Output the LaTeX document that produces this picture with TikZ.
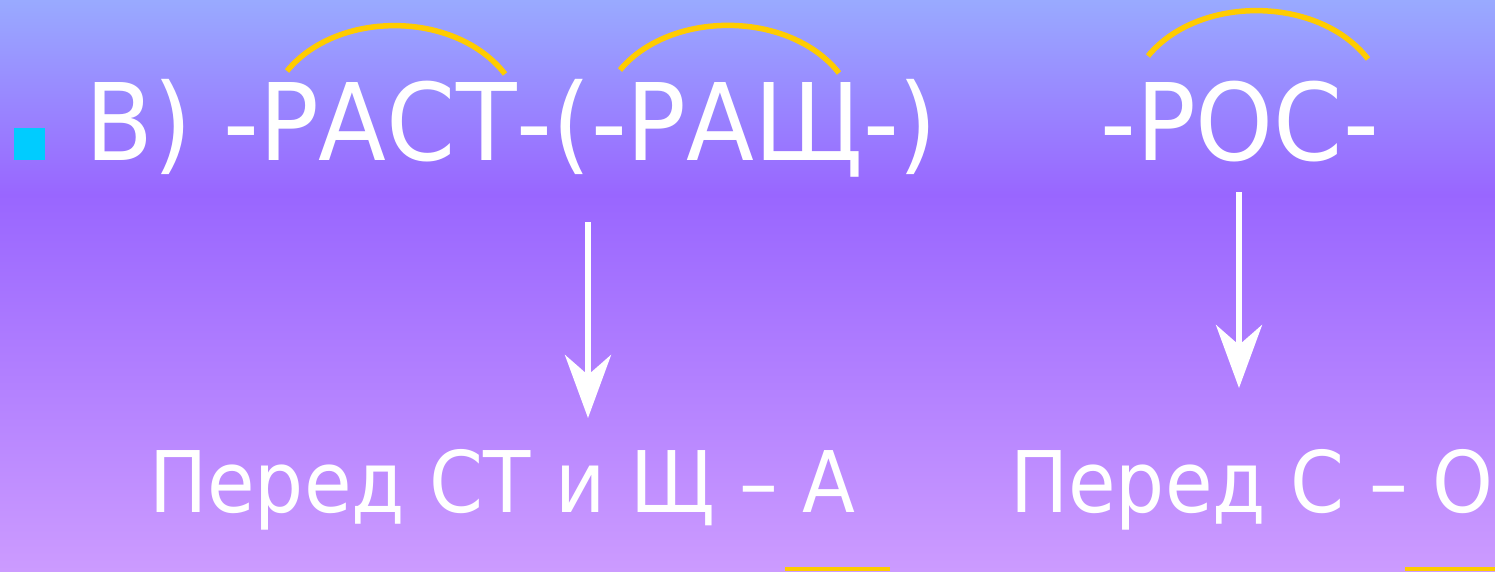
\documentclass[tikz,border=0pt]{standalone}
\usepackage{fontspec}
\setmainfont{DejaVu Sans}
\usetikzlibrary{arrows.meta}
\definecolor{bgtop}{RGB}{153,170,255}
\definecolor{bgmid}{RGB}{153,102,255}
\definecolor{bgbot}{RGB}{204,155,255}
\definecolor{arcgold}{RGB}{255,204,0}
\definecolor{bulletcyan}{RGB}{0,204,255}

\begin{document}
\begin{tikzpicture}[x=1pt,y=-1pt,
    bigtext/.style={text=white,inner sep=0pt,anchor=base west,xscale=0.927,
      font=\fontsize{107}{107}\selectfont},
    smalltext/.style={text=white,inner sep=0pt,anchor=base west,xscale=0.91,
      font=\fontsize{85}{85}\selectfont},
    rootarc/.style={arcgold,line width=5.5pt},
    downarrow/.style={white,line width=6pt,-{Stealth[length=63pt,width=46pt,inset=20pt]}}]
      \useasboundingbox (0,0) rectangle (1495,571);
      % background
      \shade[top color=bgtop, bottom color=bgmid] (0,0) rectangle (1495,195);
      \shade[top color=bgmid, bottom color=bgbot] (0,194) rectangle (1495,571);
      \foreach \x/\w in {785/105, 1405/90}{
          \fill[arcgold] (\x,567) rectangle (\x+\w,571);
      }
      % bullet and roots
      \fill[bulletcyan] (14,128) rectangle (45,160);
      \node[bigtext] (rast) at (85,160) {В) -РАСТ-(-РАЩ-)};
      \node[bigtext] (ros) at (1100,160) {-РОС-};
      \foreach \a/\b/\y/\c in {287/505/71/10, 620/839/70/10, 1148/1368/56/-5}{
          \draw[rootarc] (\a,\y) .. controls (\a+50,\c) and (\b-50,\c) .. (\b,\y+3);
      }
      % rules
      \node[smalltext] (ruleA) at (149,512) {Перед СТ и Щ – А};
      \node[smalltext] (ruleO) at (1010,512) {Перед С – О};
      \coordinate (rastfrom) at (588,222);
      \coordinate (rastto) at (588,418);
      \coordinate (rosfrom) at (1239,192);
      \coordinate (rosto) at (1239,388);
      \draw[downarrow] (rastfrom) -- (rastto);
      \draw[downarrow] (rosfrom) -- (rosto);
  \end{tikzpicture}
\end{document}
